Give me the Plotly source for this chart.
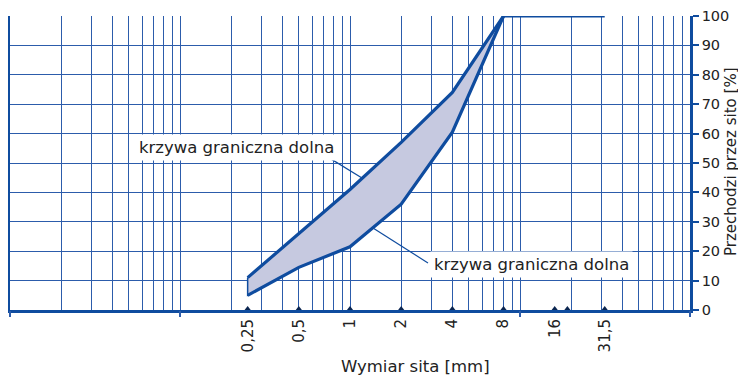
import plotly.graph_objects as go

# ---- data ----
sieve_sizes = [0.25, 0.5, 1, 2, 4, 8, 16, 19, 31.5]
sieve_labels = ["0,25", "0,5", "1", "2", "4", "8", "16", "", "31,5"]
curve_x = [0.25, 0.5, 1, 2, 4, 8]
upper_curve = [11, 26, 41, 57, 74, 100]
lower_curve = [5, 14.5, 21.5, 36, 60.5, 100]
upper_tail_x = [8, 31.5]
upper_tail_y = [100, 100]
y_ticks = list(range(0, 101, 10))
grid_x = [m * d for d in [0.01, 0.1, 1, 10] for m in range(1, 10)] + [100]
decade_ticks = [0.01, 0.1, 10, 100]
label_text = "krzywa graniczna dolna"
x_title = "Wymiar sita [mm]"
y_title = "Przechodzi przez sito [%]"

LINE = "#0f4c9f"
GRID = "#2c5cab"
FILL = "#c6c9e0"
TXT = "#222222"
FONT = "DejaVu Sans"

fig = go.Figure()

# shaded area between the limit curves
fig.add_trace(go.Scatter(
    x=curve_x + curve_x[::-1] + [curve_x[0]],
    y=upper_curve + lower_curve[::-1] + [upper_curve[0]],
    mode="lines", fill="toself", fillcolor=FILL,
    line=dict(color=LINE, width=1.5), hoverinfo="skip", showlegend=False))
fig.add_trace(go.Scatter(x=curve_x, y=upper_curve, mode="lines",
                         line=dict(color=LINE, width=3.2), showlegend=False))
fig.add_trace(go.Scatter(x=upper_tail_x, y=upper_tail_y, mode="lines",
                         line=dict(color=LINE, width=3.2), showlegend=False,
                         cliponaxis=False))
fig.add_trace(go.Scatter(x=curve_x, y=lower_curve, mode="lines",
                         line=dict(color=LINE, width=3.2), showlegend=False))
# sieve markers on the axis (on the labelled axis x2)
fig.add_trace(go.Scatter(x=sieve_sizes, y=[0] * len(sieve_sizes), mode="markers",
                         xaxis="x2", yaxis="y",
                         marker=dict(symbol="triangle-up", size=8, color="#0a2550"),
                         cliponaxis=False, showlegend=False))
# invisible trace on x3 so the decade tick axis is drawn
fig.add_trace(go.Scatter(x=decade_ticks, y=[0] * len(decade_ticks), mode="markers",
                         xaxis="x3", yaxis="y", marker=dict(size=1, opacity=0),
                         hoverinfo="skip", showlegend=False))

fig.update_layout(
    width=738, height=368,
    margin=dict(l=2, r=56, t=8, b=66, autoexpand=False),
    paper_bgcolor="white", plot_bgcolor="white",
    font=dict(family=FONT, color=TXT, size=14),
    xaxis=dict(type="log", range=[-2, 2], tickvals=grid_x, showticklabels=False,
               showgrid=True, gridcolor=GRID, gridwidth=1.4, ticks="",
               zeroline=False, showline=False, automargin=False),
    xaxis2=dict(type="log", range=[-2, 2], overlaying="x", side="bottom", anchor="y",
                tickvals=sieve_sizes, ticktext=sieve_labels, tickangle=-90,
                tickfont=dict(size=15, color=TXT, family=FONT), automargin=False,
                showgrid=False, ticks="", showline=True, linecolor=LINE, linewidth=3),
    xaxis3=dict(type="log", range=[-2, 2], overlaying="x", side="bottom", anchor="y",
                tickvals=decade_ticks, showticklabels=False, showgrid=False, automargin=False,
                ticks="outside", ticklen=6, tickwidth=1.5, tickcolor=GRID),
    yaxis=dict(range=[0, 100], side="right", tickvals=y_ticks, automargin=False,
               tickfont=dict(size=14.5, color=TXT, family=FONT),
               showgrid=True, gridcolor=GRID, gridwidth=1.4,
               ticks="outside", ticklen=6, tickwidth=1.5, tickcolor=LINE,
               showline=True, linecolor=LINE, linewidth=2.5, mirror=True,
               zeroline=False),
)

# axis titles
fig.add_annotation(xref="paper", yref="paper", x=(415 - 10) / 680, y=(310 - 367) / 294,
                   text=x_title, showarrow=False, xanchor="center", yanchor="middle",
                   font=dict(size=16.5, color=TXT, family=FONT))
fig.add_annotation(xref="paper", yref="paper", x=(731 - 10) / 680, y=(310 - 162) / 294,
                   text=y_title, showarrow=False, xanchor="center", yanchor="middle",
                   textangle=-90, font=dict(size=15, color=TXT, family=FONT))

# leader lines (paper coordinates)
fig.add_shape(type="line", xref="paper", yref="paper",
              x0=0.4676, y0=0.520, x1=0.5176, y1=0.449,
              line=dict(color=LINE, width=1.2))
fig.add_shape(type="line", xref="paper", yref="paper",
              x0=0.6147, y0=0.160, x1=0.5338, y1=0.279,
              line=dict(color=LINE, width=1.2))

fig.add_annotation(xref="paper", yref="paper", x=(236.5 - 10) / 680, y=(310 - 147) / 294,
                   text=label_text, xanchor="center", yanchor="middle",
                   showarrow=False, bgcolor="white", borderpad=3,
                   font=dict(size=16.5, color=TXT, family=FONT))
fig.add_annotation(xref="paper", yref="paper", x=(531.5 - 10) / 680, y=(310 - 264) / 294,
                   text=label_text, xanchor="center", yanchor="middle",
                   showarrow=False, bgcolor="white", borderpad=3,
                   font=dict(size=16.5, color=TXT, family=FONT))

fig.write_html("out.html")
